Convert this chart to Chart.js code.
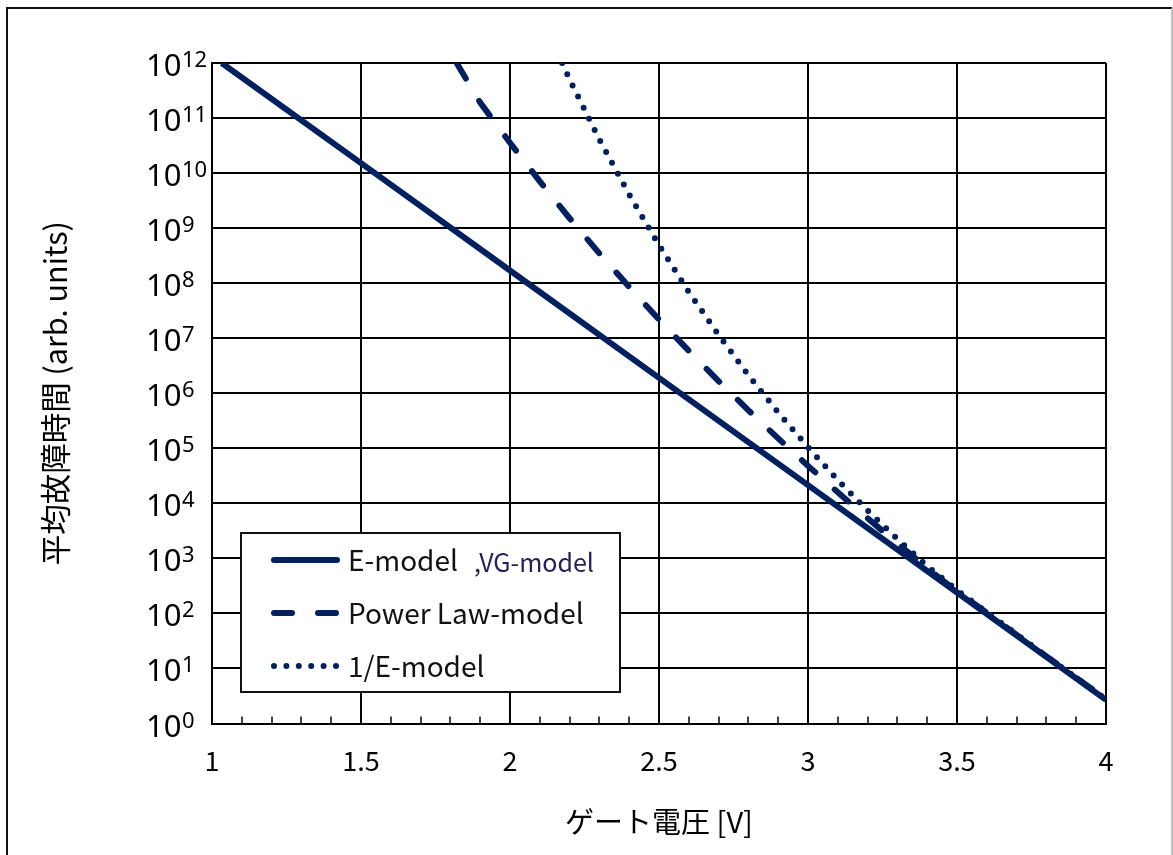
<!DOCTYPE html>
<html>
<head>
<meta charset="utf-8">
<script src="https://cdn.jsdelivr.net/npm/chart.js@4.4.0/dist/chart.umd.min.js"></script>
<style>
  html, body { margin: 0; padding: 0; background: #fff; }
</style>
</head>
<body>
<canvas id="mttfChart" width="1173" height="855"></canvas>
<script>
// Values; lifetimes kept as log10 (decades)
const eModelVolt = [1.0326, 1.5, 2.0, 2.5, 3.0, 3.5, 4.0];
const eModelLog  = [12.0, 10.18, 8.23, 6.28, 4.33, 2.38, 0.43];

const powerVolt = [1.821, 1.9, 2.0, 2.1, 2.2, 2.3, 2.4, 2.5, 2.6, 2.7, 2.8,
                   2.9, 3.0, 3.1, 3.2, 3.3, 3.4, 3.5, 3.6, 3.7, 3.8, 3.9, 4.0];
const powerLog  = [12.0, 11.28, 10.55, 9.85, 9.18, 8.54, 7.93, 7.34, 6.77, 6.22, 5.69,
                   5.18, 4.68, 4.20, 3.73, 3.27, 2.82, 2.40, 2.01, 1.61, 1.22, 0.83, 0.44];

const invEVolt = [2.175, 2.2, 2.3, 2.4, 2.5, 2.6, 2.7, 2.8, 2.9, 3.0,
                  3.1, 3.2, 3.3, 3.4, 3.5, 3.6, 3.7, 3.8, 3.9, 4.0];
const invELog  = [12.0, 11.70, 10.61, 9.61, 8.69, 7.84, 7.06, 6.33, 5.65, 5.02,
                  4.42, 3.87, 3.35, 2.86, 2.42, 2.02, 1.62, 1.22, 0.83, 0.44];

const seriesLabels = ['E-model', 'Power Law-model', '1/E-model'];
const extraLabel = ',VG-model';
const yExponents = [0, 1, 2, 3, 4, 5, 6, 7, 8, 9, 10, 11, 12];

const lineColor = '#002060';

function toPoints(volts, logs) {
    return volts.map((v, i) => ({ x: v, y: Math.pow(10, logs[i]) }));
}

// White page with the outer frame
const framePlugin = {
    id: 'frame',
    beforeDraw(chart) {
        const ctx = chart.ctx;
        ctx.save();
        ctx.fillStyle = '#fff';
        ctx.fillRect(0, 0, chart.width, chart.height);
        ctx.lineWidth = 2;
        ctx.strokeStyle = '#111';
        ctx.beginPath();
        ctx.moveTo(7, chart.height);
        ctx.lineTo(7, 8);
        ctx.lineTo(1172, 8);
        ctx.stroke();
        ctx.strokeStyle = '#aaa';
        ctx.lineWidth = 1.5;
        ctx.beginPath();
        ctx.moveTo(1172, 8);
        ctx.lineTo(1172, chart.height);
        ctx.stroke();
        ctx.restore();
    }
};

// 10^n labels with real superscripts
const yLabelPlugin = {
    id: 'yLabels',
    afterDraw(chart) {
        const { ctx, scales: { y } } = chart;
        ctx.save();
        ctx.fillStyle = '#000';
        ctx.textAlign = 'left';
        ctx.textBaseline = 'alphabetic';
        yExponents.forEach(exp => {
            const py = y.getPixelForValue(Math.pow(10, exp));
            ctx.font = '31px "Noto Sans"';
            ctx.fillText('10', 146, py + 13);
            const w = ctx.measureText('10').width;
            ctx.font = '22px "Noto Sans"';
            ctx.fillText(String(exp), 146 + w + 0.5, py + 4);
        });
        ctx.restore();
    }
};

// Legend box inside the plot, as in the original
const legendPlugin = {
    id: 'boxLegend',
    afterDraw(chart) {
        const ctx = chart.ctx;
        const box = { x: 241, y: 533, w: 379, h: 159 };
        const rows = [560, 613, 666];
        ctx.save();
        ctx.fillStyle = '#fff';
        ctx.fillRect(box.x, box.y, box.w, box.h);
        ctx.lineWidth = 2;
        ctx.strokeStyle = '#111';
        ctx.strokeRect(box.x, box.y, box.w, box.h);

        chart.data.datasets.forEach((ds, i) => {
            const yy = rows[i];
            ctx.strokeStyle = ds.borderColor;
            ctx.lineWidth = ds.borderWidth;
            ctx.lineCap = 'round';
            ctx.setLineDash(ds.borderDash || []);
            ctx.beginPath();
            ctx.moveTo(274, yy);
            ctx.lineTo(337, yy);
            ctx.stroke();
            ctx.setLineDash([]);

            ctx.fillStyle = '#111';
            ctx.font = '28px "Noto Sans CJK JP"';
            ctx.textAlign = 'left';
            ctx.textBaseline = 'alphabetic';
            ctx.fillText(ds.label, 348, yy + 11);
            if (i === 0) {
                const w = ctx.measureText(ds.label).width;
                ctx.font = '25px "Noto Sans CJK JP"';
                ctx.fillStyle = '#25205f';
                ctx.fillText(extraLabel, Math.max(474, 348 + w + 12), yy + 12);
            }
        });
        ctx.restore();
    }
};

const ctx = document.getElementById('mttfChart').getContext('2d');
new Chart(ctx, {
    type: 'line',
    data: {
        datasets: [{
            label: seriesLabels[0],
            data: toPoints(eModelVolt, eModelLog),
            borderColor: lineColor,
            borderWidth: 6,
            pointRadius: 0,
            tension: 0
        }, {
            label: seriesLabels[1],
            data: toPoints(powerVolt, powerLog),
            borderColor: lineColor,
            borderWidth: 6,
            borderDash: [18, 26],
            borderCapStyle: 'round',
            pointRadius: 0,
            tension: 0
        }, {
            label: seriesLabels[2],
            data: toPoints(invEVolt, invELog),
            borderColor: lineColor,
            borderWidth: 6,
            borderDash: [0, 12.4],
            borderCapStyle: 'round',
            pointRadius: 0,
            tension: 0
        }]
    },
    options: {
        responsive: false,
        animation: false,
        layout: { padding: { top: 63, right: 67, left: 0, bottom: 0 } },
        plugins: {
            legend: { display: false },
            tooltip: { enabled: false }
        },
        scales: {
            x: {
                type: 'linear',
                min: 1,
                max: 4,
                afterBuildTicks: (scale) => {
                    const ticks = [];
                    for (let i = 10; i <= 40; i++) ticks.push({ value: i / 10 });
                    scale.ticks = ticks;
                },
                afterFit: (scale) => { scale.height = 131.5; },
                grid: {
                    color: (c) => (Math.round(c.tick.value * 10) % 5 === 0 ? '#000' : 'rgba(0,0,0,0)'),
                    lineWidth: 2,
                    drawTicks: true,
                    tickLength: -7,
                    tickColor: '#000',
                    tickWidth: 1.5
                },
                border: { color: '#000', width: 2 },
                ticks: {
                    autoSkip: false,
                    maxRotation: 0,
                    padding: 28,
                    color: '#000',
                    font: { family: '"Noto Sans CJK JP"', size: 27 },
                    callback: (value) => {
                        const t = Math.round(value * 10);
                        return t % 5 === 0 ? String(t / 10) : '';
                    }
                },
                title: {
                    display: true,
                    text: 'ゲート電圧 [V]',
                    color: '#000',
                    font: { family: '"Noto Sans CJK JP"', size: 29 },
                    padding: { top: 0, bottom: 16 }
                }
            },
            y: {
                type: 'logarithmic',
                min: 1,
                max: 1e12,
                afterBuildTicks: (scale) => {
                    scale.ticks = yExponents.map(e => ({ value: Math.pow(10, e) }));
                },
                afterFit: (scale) => { scale.width = 212; },
                grid: {
                    color: '#000',
                    lineWidth: 2,
                    drawTicks: false
                },
                border: { color: '#000', width: 2 },
                ticks: { display: false },
                title: {
                    display: true,
                    text: '平均故障時間 (arb. units)',
                    color: '#000',
                    font: { family: '"Noto Sans CJK JP"', size: 30.5 },
                    padding: { top: 37, bottom: 0 }
                }
            }
        }
    },
    plugins: [framePlugin, yLabelPlugin, legendPlugin]
});
</script>
</body>
</html>
